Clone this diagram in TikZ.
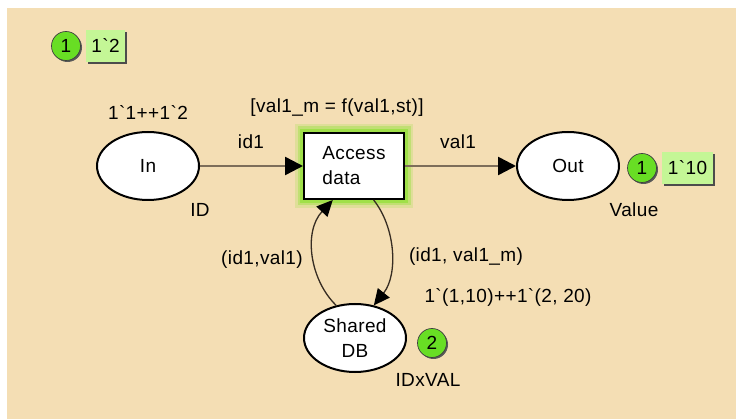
\documentclass[tikz,border=0pt]{standalone}
\usepackage{fontspec}
\setmainfont{Liberation Sans}[Ligatures=TeXOff,LetterSpace=2]
\usetikzlibrary{arrows.meta,shapes.geometric,shadows}
\pgfdeclarelayer{bglayer}
\pgfsetlayers{bglayer,main}
\definecolor{bgwheat}{RGB}{244,222,180}
\definecolor{arcgray}{RGB}{125,110,90}
\definecolor{arcdark}{RGB}{55,45,35}
\definecolor{tokgreen}{RGB}{104,222,36}
\definecolor{boxgreen}{RGB}{196,246,150}
\definecolor{glowgreen}{RGB}{150,225,60}
\begin{document}
\begin{tikzpicture}[x=1pt,y=-1pt,
  every node/.style={font=\fontsize{19}{25}\selectfont},
  place/.style={ellipse,draw=black,line width=2pt,fill=white,minimum width=102pt,minimum height=68pt,inner sep=0pt,align=center},
  trans/.style={rectangle,draw=black,line width=2pt,fill=white,minimum width=100pt,minimum height=66pt,inner sep=0pt,align=left},
  harc/.style={draw=arcgray,line width=2.5pt,-{Triangle[length=18pt,width=18pt,color=black]}},
  varc/.style={draw=arcdark,line width=1.3pt,-{Triangle[length=16pt,width=15pt,color=black]}},
  lbl/.style={inner sep=0pt},
  token/.style={circle,fill=tokgreen,draw=black!75,line width=0.7pt,minimum size=29pt,inner sep=0pt,
    drop shadow={shadow xshift=1.5pt,shadow yshift=-1.5pt,fill=black!65,opacity=1}},
  tokbox/.style={rectangle,fill=boxgreen,minimum height=32pt,inner xsep=5.5pt,inner ysep=0pt,
    drop shadow={shadow xshift=2pt,shadow yshift=-2pt,fill=black!70,opacity=1}}
]
\useasboundingbox (0,0) rectangle (736,419);

% nodes
\node[place] (In) at (148,166) {In};
\node[trans] (AD) at (354,166) {Access\\data};
\node[place] (Out) at (568,166) {Out};
\node[place] (DB) at (355,338) {Shared\\DB};

\begin{pgfonlayer}{bglayer}
  \fill[bgwheat] (7,8) rectangle (736,419);
  \draw[glowgreen,line width=16pt,opacity=0.22] (AD.north west) rectangle (AD.south east);
  \draw[glowgreen,line width=11pt,opacity=0.4] (AD.north west) rectangle (AD.south east);
  \draw[glowgreen,line width=6pt,opacity=0.75] (AD.north west) rectangle (AD.south east);
\end{pgfonlayer}

% arcs
\draw[harc] (In.east) -- (AD.west);
\draw[harc] (AD.east) -- (Out.west);
\draw[varc] (DB.120) .. controls (310,280) and (303,232) .. (AD.238);
\draw[varc] (AD.300) .. controls (396,228) and (398,275) .. (DB.60);

% inscriptions
\node[lbl] (initIn) at (148,113) {1\symbol{96}1++1\symbol{96}2};
\node[lbl] (typeIn) at (200,210) {ID};
\node[lbl] (lid1) at (251,142) {id1};
\node[lbl] (guard) at (337,108) {[val1\_m = f(val1,st)]};
\node[lbl] (lval1) at (458,142) {val1};
\node[lbl] (typeOut) at (634,210) {Value};
\node[lbl] (lread) at (262,260) {(id1,val1)};
\node[lbl] (lwrite) at (466,257) {(id1, val1\_m)};
\node[lbl] (initDB) at (508,297) {1\symbol{96}(1,10)++1\symbol{96}(2, 20)};
\node[lbl] (typeDB) at (428,380) {IDxVAL};

% tokens
\node[token] (t1) at (66,46) {1};
\node[tokbox] (m1) at (105.5,46) {1\symbol{96}2};
\node[token] (t2) at (642,168) {1};
\node[tokbox] (m2) at (687.5,168) {1\symbol{96}10};
\node[token] (t3) at (432,343) {2};
\end{tikzpicture}
\end{document}
